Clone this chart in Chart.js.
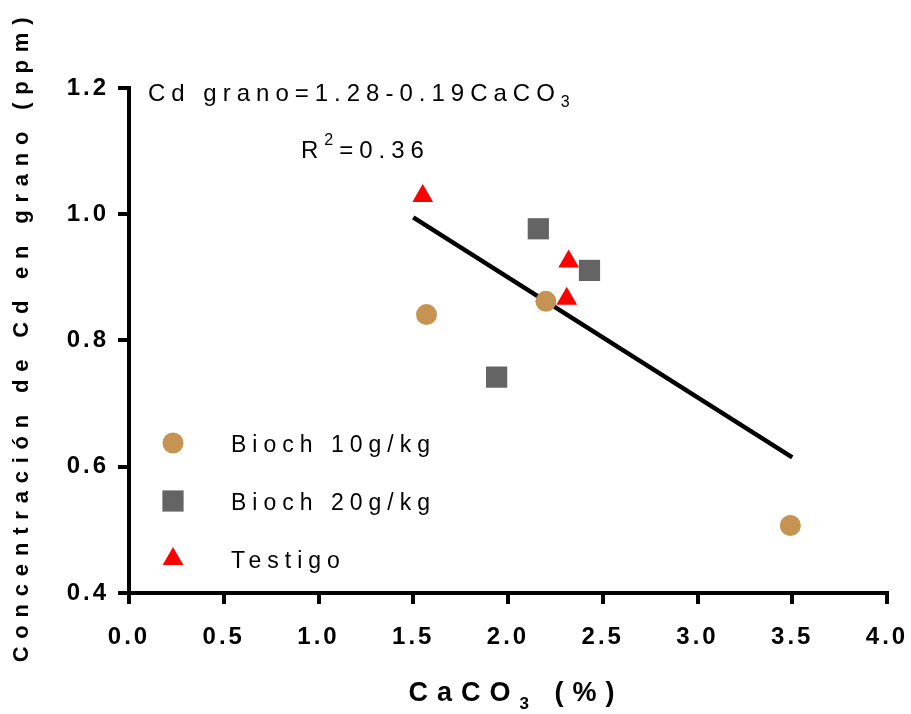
<!DOCTYPE html>
<html>
<head>
<meta charset="utf-8">
<script src="https://cdn.jsdelivr.net/npm/chart.js@4.4.0/dist/chart.umd.min.js"></script>
<style>
  html, body { margin: 0; padding: 0; background: #fff; }
  #wrap { width: 911px; height: 714px; position: relative; }
</style>
</head>
<body>
<div id="wrap"><canvas id="c"></canvas></div>
<script>
// ---- data ----
const seriesLabels = ['Bioch 10g/kg', 'Bioch 20g/kg', 'Testigo'];
const bioch10X = [1.57, 2.20, 3.49];
const bioch10Y = [0.841, 0.862, 0.507];
const bioch20X = [2.16, 2.43, 1.94];
const bioch20Y = [0.977, 0.911, 0.742];
const testigoX = [1.55, 2.32, 2.31];
const testigoY = [1.029, 0.925, 0.866];
const fitX = [1.5, 3.5];
const fitY = [0.995, 0.615];
const xTicks = { min: 0, max: 4, step: 0.5 };
const yTicks = { min: 0.4, max: 1.2, step: 0.2 };
const equationText = 'Cd grano=1.28-0.19CaCO';
const r2Text = '=0.36';
const xTitleMain = 'CaCO';
const xTitleRest = ' (%)';
const yTitle = 'Concentración de Cd en grano (ppm)';

const toPts = (xs, ys) => xs.map((x, i) => ({ x: x, y: ys[i] }));

const colors = ['#C59352', '#646464', '#FF0000'];
const styles = ['circle', 'rect', 'triangle'];
const radii = [10.5, 15, 12];

const FONT = "'Liberation Sans', Arial, sans-serif";

const textPlugin = {
  id: 'texts',
  beforeDraw(chart) {
    chart.ctx.letterSpacing = '3px';
  },
  beforeDatasetsDraw(chart) {
    chart.ctx.letterSpacing = '0px';
  },
  afterDraw(chart) {
    const ctx = chart.ctx;
    ctx.save();
    ctx.fillStyle = '#000';
    ctx.textBaseline = 'alphabetic';
    ctx.textAlign = 'left';

    // equation
    ctx.font = '24px ' + FONT;
    ctx.letterSpacing = '6px';
    ctx.fillText(equationText, 148, 101);
    let w = ctx.measureText(equationText).width;
    ctx.font = '16px ' + FONT;
    ctx.fillText('3', 148 + w, 107);

    // R^2
    ctx.font = '24px ' + FONT;
    ctx.fillText('R', 301, 158);
    let wr = ctx.measureText('R').width;
    ctx.font = '16px ' + FONT;
    ctx.fillText('2', 301 + wr, 145);
    let w2 = ctx.measureText('2').width;
    ctx.font = '24px ' + FONT;
    ctx.fillText(r2Text, 301 + wr + w2, 158);

    // legend
    const lx = 173, ly = [443, 501, 559], tx = 231;
    chart.data.datasets.slice(0, 3).forEach((ds, i) => {
      ctx.fillStyle = ds.backgroundColor;
      ctx.strokeStyle = ds.backgroundColor;
      ctx.letterSpacing = '0px';
      Chart.helpers.drawPoint(ctx, { pointStyle: ds.pointStyle, radius: ds.pointRadius, rotation: 0, borderWidth: 0 }, lx, ly[i]);
      ctx.fillStyle = '#000';
      ctx.font = '23px ' + FONT;
      ctx.letterSpacing = '6px';
      ctx.textBaseline = 'middle';
      ctx.fillText(ds.label, tx, ly[i] + 3);
      ctx.textBaseline = 'alphabetic';
    });

    // x title
    ctx.font = 'bold 27px ' + FONT;
    ctx.letterSpacing = '9px';
    const wm = ctx.measureText(xTitleMain).width;
    ctx.font = 'bold 17px ' + FONT;
    const ws = ctx.measureText('3').width;
    ctx.font = 'bold 27px ' + FONT;
    const wrest = ctx.measureText(xTitleRest).width;
    const total = wm + ws + wrest;
    let sx = 516 - total / 2;
    ctx.fillText(xTitleMain, sx, 701);
    ctx.font = 'bold 17px ' + FONT;
    ctx.fillText('3', sx + wm, 709);
    ctx.font = 'bold 27px ' + FONT;
    ctx.fillText(xTitleRest, sx + wm + ws, 701);

    // y title
    ctx.translate(22, 340);
    ctx.rotate(-Math.PI / 2);
    ctx.font = 'bold 22px ' + FONT;
    ctx.letterSpacing = '7.8px';
    ctx.textAlign = 'center';
    ctx.textBaseline = 'middle';
    ctx.fillText(yTitle, 4, 0);
    ctx.restore();
    ctx.letterSpacing = '0px';
  }
};

new Chart(document.getElementById('c'), {
  type: 'scatter',
  data: {
    datasets: [
      { label: seriesLabels[0], data: toPts(bioch10X, bioch10Y), backgroundColor: colors[0], borderColor: colors[0], pointStyle: styles[0], pointRadius: radii[0], pointBorderWidth: 0, pointHoverRadius: radii[0] },
      { label: seriesLabels[1], data: toPts(bioch20X, bioch20Y), backgroundColor: colors[1], borderColor: colors[1], pointStyle: styles[1], pointRadius: radii[1], pointBorderWidth: 0, pointHoverRadius: radii[1] },
      { label: seriesLabels[2], data: toPts(testigoX, testigoY), backgroundColor: colors[2], borderColor: colors[2], pointStyle: styles[2], pointRadius: radii[2], pointBorderWidth: 0, pointHoverRadius: radii[2] },
      { label: 'fit', data: toPts(fitX, fitY), showLine: true, borderColor: '#000', borderWidth: 4.5, pointRadius: 0, pointHoverRadius: 0, fill: false, borderCapStyle: 'butt' }
    ]
  },
  options: {
    responsive: true,
    maintainAspectRatio: false,
    animation: false,
    layout: { padding: { top: 88, right: 24, left: 0, bottom: 0 } },
    plugins: { legend: { display: false }, tooltip: { enabled: false } },
    scales: {
      x: {
        type: 'linear', min: xTicks.min, max: xTicks.max,
        afterFit(s) { s.height = 121; s.paddingLeft = 0; s.paddingRight = 0; },
        ticks: { stepSize: xTicks.step, color: '#000', padding: 19, font: { family: FONT, size: 24, weight: 'bold' }, callback: v => v.toFixed(1), maxRotation: 0 },
        grid: { drawOnChartArea: false, drawTicks: true, tickLength: 11, color: '#000', lineWidth: 4 },
        border: { color: '#000', width: 4 }
      },
      y: {
        type: 'linear', min: yTicks.min, max: yTicks.max,
        afterFit(s) { s.width = 129; s.paddingTop = 0; s.paddingBottom = 0; },
        ticks: { stepSize: yTicks.step, color: '#000', padding: 9, font: { family: FONT, size: 24, weight: 'bold' }, callback: v => v.toFixed(1) },
        grid: { drawOnChartArea: false, drawTicks: true, tickLength: 11, color: '#000', lineWidth: 4 },
        border: { color: '#000', width: 4 }
      }
    }
  },
  plugins: [textPlugin]
});
</script>
</body>
</html>
